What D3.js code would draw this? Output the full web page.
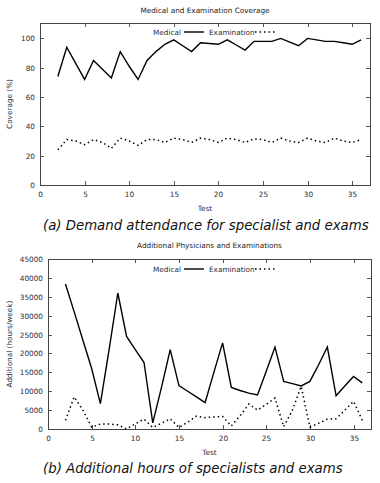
<!DOCTYPE html>
<html>
<head>
<meta charset="utf-8">
<script src="https://cdn.jsdelivr.net/npm/d3@7"></script>
<style>
	body { margin: 0; background: #fff; }
	svg { display: block; }
	.tick-label { font-family: "DejaVu Sans", sans-serif; font-size: 7.3px; fill: #2b2b3a; }
	.title { font-family: "DejaVu Sans", sans-serif; font-size: 7.3px; fill: #222; }
	.caption { font-family: "DejaVu Sans", sans-serif; font-size: 13.3px; font-style: italic; fill: #111; }
</style>
</head>
<body>
<svg width="380" height="483"></svg>
<script>
'use strict';

// test numbers (x axis)
const tests = [2, 3, 4, 5, 6, 7, 8, 9, 10, 11, 12, 13, 14, 15, 16, 17, 18, 19,
	20, 21, 22, 23, 24, 25, 26, 27, 28, 29, 30, 31, 32, 33, 34, 35, 36];

// (a) coverage in %
const medicalCoverage = [74, 94, 83, 72, 85, 79, 73, 91, 81, 72, 85, 91, 96, 99, 95, 91, 97, 96.5,
	96, 99, 95.5, 92, 98, 98, 98, 100, 97.5, 95, 100, 99, 98, 98, 97, 96, 99];
const examCoverage = [24, 31, 30, 27.5, 31, 29, 25, 32, 30, 27, 31, 31, 29, 32, 31, 29, 32, 31,
	29, 32, 31, 29, 31.5, 31, 29, 32, 30, 29, 32, 30, 29, 32, 30, 29, 31];

// (b) additional hours/week
const medicalHours = [38400, 31000, 23500, 16000, 6700, 21000, 36000, 24500, 21000, 17600, 1600, 11000,
	21000, 11500, 10000, 8500, 7000, 15000, 22800, 11000, 10200, 9500, 9000, 15300, 21700, 12600,
	12000, 11400, 12600, 17000, 21700, 8800, 11400, 13900, 12200];
const examHours = [2300, 8500, 5000, 500, 1300, 1300, 1100, 0, 1400, 2600, 400, 1500,
	2700, 400, 1800, 3400, 3000, 3200, 3300, 800, 3500, 6600, 5000, 6500, 8200, 600,
	5000, 11300, 500, 1500, 2600, 2700, 5000, 7300, 2300];

const xTicks = [0, 5, 10, 15, 20, 25, 30, 35];
const yTicksA = [0, 20, 40, 60, 80, 100];
const yTicksB = [0, 5000, 10000, 15000, 20000, 25000, 30000, 35000, 40000, 45000];

const svg = d3.select("svg");

function drawPanel(cfg) {
	const g = svg.append("g");
	const x = d3.scaleLinear().domain([0, 37]).range([cfg.left, cfg.right]);
	const y = d3.scaleLinear().domain(cfg.yDomain).range([cfg.bottom, cfg.top]);

	// ticks on all four sides, pointing inward (gnuplot style)
	const tickLen = 4;
	const ticks = g.append("g").attr("stroke", "#555").attr("stroke-width", 1);
	cfg.yTicks.forEach(t => {
		const yy = Math.round(y(t)) + 0.5;
		ticks.append("line").attr("x1", cfg.left).attr("x2", cfg.left + tickLen).attr("y1", yy).attr("y2", yy);
		ticks.append("line").attr("x1", cfg.right).attr("x2", cfg.right - tickLen).attr("y1", yy).attr("y2", yy);
		g.append("text").attr("class", "tick-label")
			.attr("x", cfg.left - 5).attr("y", yy + 2.5)
			.attr("text-anchor", "end").text(t);
	});
	xTicks.forEach(t => {
		const xx = Math.round(x(t)) + 0.5;
		ticks.append("line").attr("x1", xx).attr("x2", xx).attr("y1", cfg.bottom).attr("y2", cfg.bottom - tickLen);
		ticks.append("line").attr("x1", xx).attr("x2", xx).attr("y1", cfg.top).attr("y2", cfg.top + tickLen);
		g.append("text").attr("class", "tick-label")
			.attr("x", xx).attr("y", cfg.bottom + 12)
			.attr("text-anchor", "middle").text(t);
	});

	// frame
	g.append("rect")
		.attr("x", cfg.left + 0.5).attr("y", cfg.top + 0.5)
		.attr("width", cfg.right - cfg.left).attr("height", cfg.bottom - cfg.top)
		.attr("fill", "none").attr("stroke", "#444").attr("stroke-width", 1);

	const line = vals => d3.line()
		.x((d, i) => x(tests[i]))
		.y(d => y(d))(vals);

	g.append("path").attr("d", line(cfg.medical))
		.attr("fill", "none").attr("stroke", "#000").attr("stroke-width", 1.4);
	g.append("path").attr("d", line(cfg.exam))
		.attr("fill", "none").attr("stroke", "#000").attr("stroke-width", 1.5)
		.attr("stroke-dasharray", "1.5,3");

	// legend
	const ly = cfg.legendY;
	g.append("text").attr("class", "tick-label").attr("x", 181).attr("y", ly + 2.5)
		.attr("text-anchor", "end").text("Medical");
	g.append("line").attr("x1", 184).attr("x2", 204).attr("y1", ly).attr("y2", ly)
		.attr("stroke", "#000").attr("stroke-width", 1.4);
	g.append("text").attr("class", "tick-label").attr("x", 209).attr("y", ly + 2.5)
		.text("Examination");
	g.append("line").attr("x1", 255).attr("x2", 277).attr("y1", ly).attr("y2", ly)
		.attr("stroke", "#000").attr("stroke-width", 1.5).attr("stroke-dasharray", "1.5,3");

	// titles
	g.append("text").attr("class", "title")
		.attr("x", (cfg.left + cfg.right) / 2).attr("y", cfg.titleY)
		.attr("text-anchor", "middle").text(cfg.title);
	g.append("text").attr("class", "tick-label")
		.attr("x", (cfg.left + cfg.right) / 2).attr("y", cfg.bottom + 26)
		.attr("text-anchor", "middle").text("Test");
	g.append("text").attr("class", "tick-label")
		.attr("transform", `translate(12,${(cfg.top + cfg.bottom) / 2}) rotate(-90)`)
		.attr("text-anchor", "middle").text(cfg.yLabel);
	g.append("text").attr("class", "caption")
		.attr("x", 43).attr("y", cfg.captionY).text(cfg.caption);
}

drawPanel({
	left: 40, right: 370, top: 23, bottom: 185,
	yDomain: [0, 110.5], yTicks: yTicksA,
	medical: medicalCoverage, exam: examCoverage,
	legendY: 32, titleY: 13,
	title: "Medical and Examination Coverage",
	yLabel: "Coverage (%)",
	captionY: 230,
	caption: "(a)  Demand attendance for specialist and exams"
});

drawPanel({
	left: 48, right: 371, top: 259, bottom: 429,
	yDomain: [0, 45000], yTicks: yTicksB,
	medical: medicalHours, exam: examHours,
	legendY: 269, titleY: 248,
	title: "Additional Physicians and Examinations",
	yLabel: "Additional (hours/week)",
	captionY: 473,
	caption: "(b) Additional hours of specialists and exams"
});
</script>
</body>
</html>
